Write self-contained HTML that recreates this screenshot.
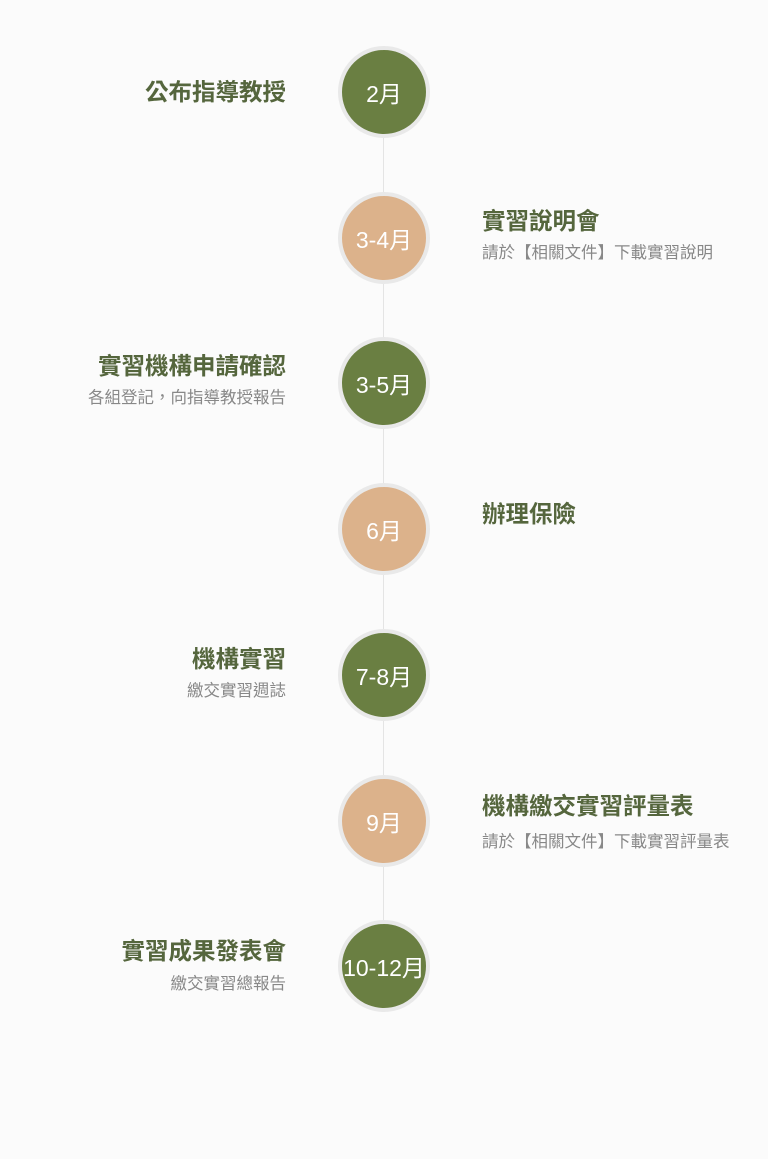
<!DOCTYPE html>
<html><head><meta charset="utf-8"><style>
body{margin:0;width:768px;height:1159px;background:#fbfbfb;position:relative;overflow:hidden;font-family:"Liberation Sans","Noto Sans CJK TC",sans-serif}
.line{position:absolute;left:383px;top:92px;width:1px;height:874px;background:#e4e4e4}
.c{position:absolute;width:84px;height:84px;border-radius:50%;border:4px solid #e9e9e9;color:#fff;font-size:23px;display:flex;align-items:center;justify-content:center;left:338px;margin-top:-46px;box-sizing:content-box;white-space:nowrap}
.g{background:#6a7f42}.o{background:#dcb28b}
.t{position:absolute;font-size:23.5px;font-weight:bold;color:#55663d;white-space:nowrap;line-height:26px}
.s{position:absolute;font-size:16.5px;color:#888;white-space:nowrap;line-height:20px}
.l{right:482px;text-align:right}.r{left:482px}
</style></head><body>
<div class="line"></div>
<div class="c g" style="top:92px">2月</div>
<div class="c o" style="top:238px">3-4月</div>
<div class="c g" style="top:383px">3-5月</div>
<div class="c o" style="top:529px">6月</div>
<div class="c g" style="top:675px">7-8月</div>
<div class="c o" style="top:821px">9月</div>
<div class="c g" style="top:966px">10-12月</div>

<div class="t l" style="top:79px">公布指導教授</div>
<div class="t r" style="top:208px">實習說明會</div>
<div class="s r" style="top:243px">請於【相關文件】下載實習說明</div>
<div class="t l" style="top:353px">實習機構申請確認</div>
<div class="s l" style="top:388px">各組登記，向指導教授報告</div>
<div class="t r" style="top:501px">辦理保險</div>
<div class="t l" style="top:646px">機構實習</div>
<div class="s l" style="top:681px">繳交實習週誌</div>
<div class="t r" style="top:793px">機構繳交實習評量表</div>
<div class="s r" style="top:832px">請於【相關文件】下載實習評量表</div>
<div class="t l" style="top:938px">實習成果發表會</div>
<div class="s l" style="top:974px">繳交實習總報告</div>
</body></html>
